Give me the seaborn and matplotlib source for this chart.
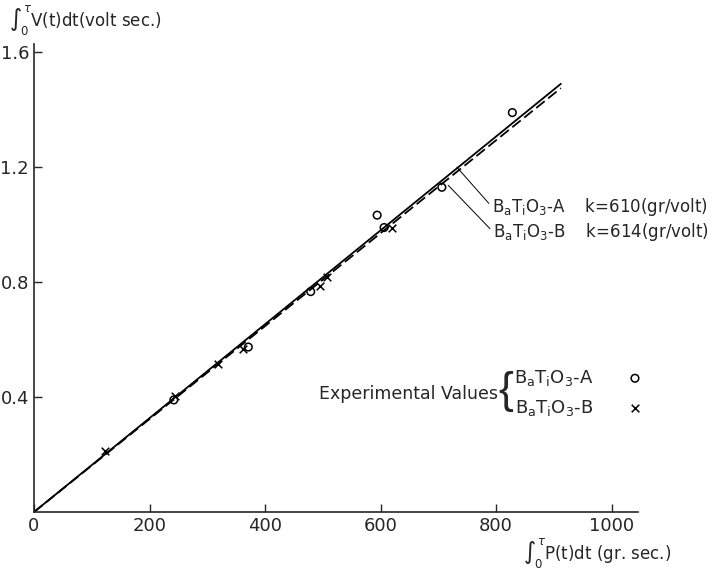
import matplotlib

matplotlib.use("Agg")
import matplotlib.pyplot as plt
import seaborn as sns

# fitted lines (end points)
line_x = [0, 912]
line_a_y = [0, 1.49]
line_b_y = [0, 1.475]

# experimental values
a_x = [242, 371, 479, 594, 606, 706, 828]
a_y = [0.39, 0.574, 0.767, 1.033, 0.99, 1.13, 1.39]
b_x = [123, 244, 318, 361, 495, 508, 619]
b_y = [0.212, 0.405, 0.515, 0.568, 0.787, 0.818, 0.99]

x_ticks = [0, 200, 400, 600, 800, 1000]
y_ticks = [0.4, 0.8, 1.2, 1.6]

label_a = r"B$_\mathregular{a}$T$_\mathregular{i}$O$_\mathregular{3}$-A"
label_b = r"B$_\mathregular{a}$T$_\mathregular{i}$O$_\mathregular{3}$-B"

sns.set_style("ticks")
plt.rcParams["font.family"] = ["DejaVu Sans"]
plt.rcParams["font.size"] = 12

fig = plt.figure(figsize=(7.17, 5.79), dpi=100)
ax = fig.add_axes([0.0474, 0.1157, 0.842, 0.809])

sns.lineplot(x=line_x, y=line_a_y, ax=ax, color="black", linewidth=1.3)
sns.lineplot(x=line_x, y=line_b_y, ax=ax, color="black", linewidth=1.3,
             linestyle=(0, (6, 2.5)))
sns.scatterplot(x=a_x, y=a_y, ax=ax, marker="o", s=30, facecolors="none",
                edgecolors="black", linewidth=1.1, label=label_a, zorder=3)
sns.scatterplot(x=b_x, y=b_y, ax=ax, marker="x", s=30, color="black",
                linewidth=1.1, label=label_b, zorder=3)

ax.set_xlim(0, 1045)
ax.set_ylim(0, 1.63)
ax.set_xticks(x_ticks)
ax.set_xticklabels([str(v) for v in x_ticks])
ax.set_yticks(y_ticks)
ax.set_yticklabels([f"{v:.1f}" for v in y_ticks])
ax.tick_params(direction="in", length=6, width=1, labelsize=13)
ax.set_xlabel("")
ax.set_ylabel("")
sns.despine(ax=ax)
for s in ("left", "bottom"):
    ax.spines[s].set_linewidth(1.2)

# axis titles
fig.text(0.012, 1 - 20 / 579, r"$\int_0^\tau$V(t)dt(volt sec.)",
         fontsize=12, va="center", ha="left")
fig.text(523 / 717, 1 - 553 / 579, r"$\int_0^\tau$P(t)dt (gr. sec.)",
         fontsize=12, va="center", ha="left")

# line annotations
ax.annotate(label_a + "    k=610(gr/volt)", xy=(732, 1.20), xytext=(793, 1.061),
            va="center", ha="left", fontsize=12,
            arrowprops=dict(arrowstyle="-", lw=0.7, color="black",
                            relpos=(0, 0.5), shrinkA=0, shrinkB=0))
ax.annotate(label_b + "    k=614(gr/volt)", xy=(717, 1.137), xytext=(795, 0.974),
            va="center", ha="left", fontsize=12,
            arrowprops=dict(arrowstyle="-", lw=0.7, color="black",
                            relpos=(0, 0.5), shrinkA=0, shrinkB=0))

# legend with brace
fig.text(498 / 717, 1 - 394 / 579, "Experimental Values", fontsize=12.5,
         ha="right", va="center")
fig.text(506 / 717, 1 - 392 / 579, "{", fontsize=32, ha="center", va="center",
         family="Liberation Sans")
ax.legend(loc="upper left", bbox_to_anchor=(514 / 717, 1 - 368 / 579),
          bbox_transform=fig.transFigure, frameon=False, markerfirst=False,
          borderpad=0, borderaxespad=0, handlelength=1.0, handletextpad=1.8,
          labelspacing=0.55, fontsize=13)

fig.savefig("out.png", dpi=100)
